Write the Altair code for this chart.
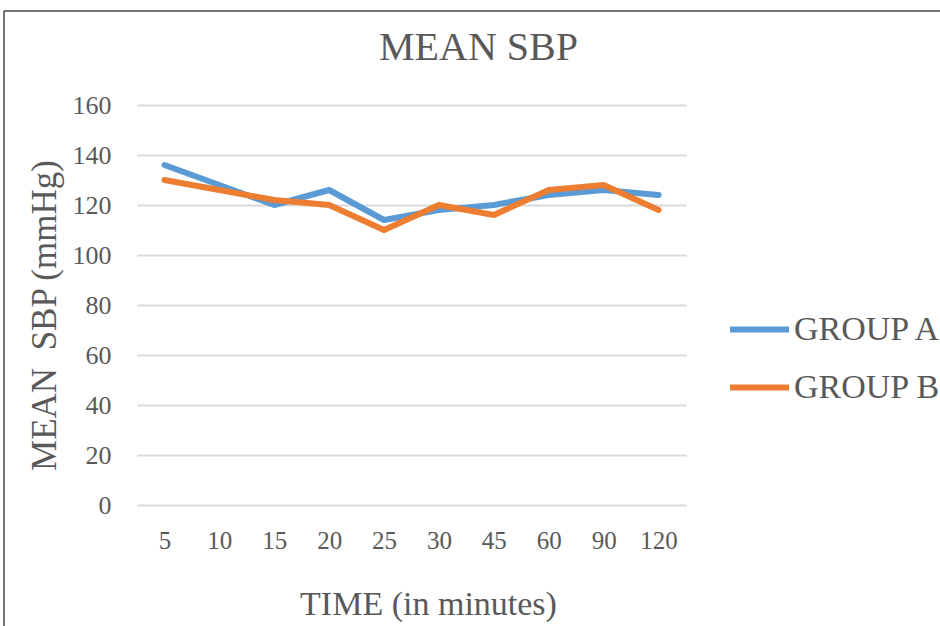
import altair as alt
import pandas as pd

times = ["5", "10", "15", "20", "25", "30", "45", "60", "90", "120"]
group_a = [136, 128, 120, 126, 114, 118, 120, 124, 126, 124]
group_b = [130, 126, 122, 120, 110, 120, 116, 126, 128, 118]
series_names = ["GROUP A", "GROUP B"]
colors = ["#5B9BD5", "#ED7D31"]

rows = []
for name, vals in zip(series_names, [group_a, group_b]):
    for t, v in zip(times, vals):
        rows.append({"time": t, "sbp": v, "group": name})
df = pd.DataFrame(rows)

FONT = "Liberation Serif"
TXT = "#595959"

lines = alt.Chart(df).mark_line(strokeWidth=6, strokeCap="round", strokeJoin="round").encode(
    x=alt.X("time:O", sort=times,
            scale=alt.Scale(type="point", padding=0.5),
            axis=alt.Axis(title="TIME (in minutes)", labelAngle=0, ticks=False, domain=False,
                          grid=False, labelFontSize=25, labelPadding=23,
                          titleFontSize=34, titleX=291, titleY=99, titleBaseline="middle",
                          titleAlign="center", titleFontWeight="normal")),
    y=alt.Y("sbp:Q", scale=alt.Scale(domain=[0, 160]),
            axis=alt.Axis(title="MEAN\u00a0\u00a0SBP (mmHg)", values=list(range(0, 161, 20)),
                          ticks=False, domain=False, grid=True, labelFontSize=26,
                          labelPadding=26, titleFontSize=35, titleX=-93, titleY=210,
                          titleBaseline="middle", titleAlign="center", titleAngle=-90,
                          titleFontWeight="normal")),
    color=alt.Color("group:N", scale=alt.Scale(domain=series_names, range=colors),
                    legend=alt.Legend(title=None, orient="none", legendX=590, legendY=192,
                                      symbolType="stroke", symbolSize=3481,
                                      symbolStrokeWidth=6, labelFontSize=34,
                                      labelOffset=2, rowPadding=8,
                                      labelColor=TXT, labelFont=FONT)),
)

border_top = alt.Chart(pd.DataFrame({"k": [0]})).mark_rule(color="#444444", strokeWidth=1.5).encode(
    x=alt.value(-133), x2=alt.value(803), y=alt.value(-94)
)
border_left = alt.Chart(pd.DataFrame({"k": [0]})).mark_rule(color="#444444", strokeWidth=1.5).encode(
    x=alt.value(-133), y=alt.value(-94), y2=alt.value(521)
)

chart = alt.layer(lines, border_top, border_left).properties(
    width=549, height=400,
    title=alt.TitleParams("MEAN SBP", fontSize=40, font=FONT, color=TXT,
                          fontWeight="normal", anchor="middle", dx=67, offset=0, dy=58),
    autosize=alt.AutoSizeParams(type="none"),
    padding={"left": 137, "top": 105, "right": 254, "bottom": 121},
).configure(
    font=FONT,
    background="white",
).configure_view(
    stroke=None,
).configure_axis(
    labelFont=FONT, titleFont=FONT, labelColor=TXT, titleColor=TXT,
    gridColor="#D9D9D9", gridWidth=2,
)

chart.save("out.html", embed_options={"renderer": "svg", "actions": False})
